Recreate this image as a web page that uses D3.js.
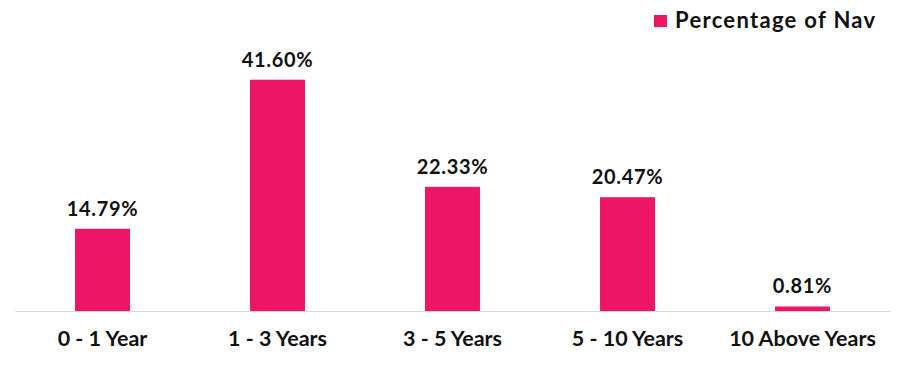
<!DOCTYPE html>
<html>
<head>
<meta charset="utf-8">
<script src="https://cdn.jsdelivr.net/npm/d3@7"></script>
<style>
  body { margin: 0; background: #fff; }
  svg text { font-family: Lato, sans-serif; font-weight: bold; fill: #111; }
</style>
</head>
<body>
<div class="chart"></div>
<script>
// categories and values (percentage of NAV)
const categories = ['0 - 1 Year', '1 - 3 Years', '3 - 5 Years', '5 - 10 Years', '10 Above Years'];
const values = [14.79, 41.60, 22.33, 20.47, 0.81];
const seriesName = 'Percentage of Nav';

const width = 908, height = 367;
const margin = { top: 33, right: 18, bottom: 56, left: 15 };
const color = '#ee1566';

const svg = d3.select('.chart').append('svg')
  .attr('width', width)
  .attr('height', height);

const x = d3.scaleBand()
  .domain(categories)
  .range([margin.left, width - margin.right])
  .paddingInner(0.686)
  .paddingOuter(0.343);

const y = d3.scaleLinear()
  .domain([0, 50])
  .range([height - margin.bottom, margin.top]);

const data = categories.map((c, i) => ({ name: c, value: values[i] }));

// bars
svg.selectAll('.bar')
  .data(data)
  .enter()
  .append('rect')
  .attr('class', 'bar')
  .attr('x', d => x(d.name))
  .attr('y', d => y(d.value))
  .attr('width', x.bandwidth())
  .attr('height', d => y(0) - y(d.value))
  .attr('fill', color);

// value labels
svg.selectAll('.val')
  .data(data)
  .enter()
  .append('text')
  .attr('class', 'val')
  .attr('x', d => x(d.name) + x.bandwidth() / 2)
  .attr('y', d => y(d.value) - 13)
  .attr('text-anchor', 'middle')
  .style('font-size', '20px')
  .style('letter-spacing', '0.7px')
  .text(d => d.value.toFixed(2) + '%');

// x axis, no ticks
const xAxis = d3.axisBottom(x).tickSize(0).tickPadding(20);
const gx = svg.append('g')
  .attr('transform', `translate(0,${y(0)})`)
  .call(xAxis);
gx.select('.domain').attr('stroke', '#d9d9d9').attr('stroke-width', 1.2);
gx.selectAll('text')
  .style('font-size', '21.5px')
  .style('font-family', 'Lato, sans-serif')
  .style('font-weight', 'bold')
  .attr('fill', '#111');

// legend
const legend = svg.append('g').attr('transform', 'translate(654,15)');
legend.append('rect').attr('width', 13).attr('height', 12).attr('fill', color);
legend.append('text')
  .attr('x', 21)
  .attr('y', 13)
  .style('font-size', '22px')
  .style('letter-spacing', '1.3px')
  .text(seriesName);
</script>
</body>
</html>
